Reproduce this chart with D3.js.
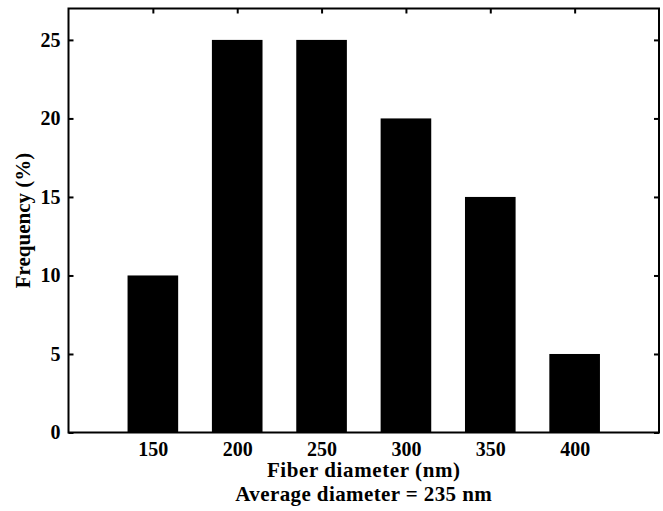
<!DOCTYPE html>
<html>
<head>
<meta charset="utf-8">
<script src="https://cdn.jsdelivr.net/npm/d3@7"></script>
<style>
  body { margin: 0; background: #fff; }
</style>
</head>
<body>
<div id="chart"></div>
<script>
// fiber diameter histogram
const diameters = [150, 200, 250, 300, 350, 400];
const frequencies = [10, 25, 25, 20, 15, 5];
const yTicks = [0, 5, 10, 15, 20, 25];
const xLabel = "Fiber diameter (nm)";
const subLabel = "Average diameter = 235 nm";
const yLabel = "Frequency (%)";

const width = 663;
const height = 511;
const margin = { top: 8.5, right: 4, bottom: 78.5, left: 68.5 };
const innerW = width - margin.left - margin.right;
const innerH = height - margin.top - margin.bottom;
const barWidthNm = 30;
const font = "'Liberation Serif', 'Times New Roman', serif";

const svg = d3
  .select("#chart")
  .append("svg")
  .attr("width", width)
  .attr("height", height)
  .style("background", "#fff");

const g = svg
  .append("g")
  .attr("transform", "translate(" + margin.left + "," + margin.top + ")");

const x = d3.scaleLinear().domain([100, 450]).range([0, innerW]);
const y = d3.scaleLinear().domain([0, 27]).range([innerH, 0]);

// bars
g.selectAll("rect.bar")
  .data(diameters)
  .enter()
  .append("rect")
  .attr("class", "bar")
  .attr("x", (d) => x(d - barWidthNm / 2))
  .attr("width", (d) => x(d + barWidthNm / 2) - x(d - barWidthNm / 2))
  .attr("y", (d, i) => y(frequencies[i]))
  .attr("height", (d, i) => y(0) - y(frequencies[i]))
  .attr("fill", "#000");

function styleAxis(sel) {
  sel.select(".domain").remove();
  sel.selectAll(".tick line").attr("stroke", "#000").attr("stroke-width", 2);
  sel
    .selectAll(".tick text")
    .attr("fill", "#000")
    .style("font-family", font)
    .style("font-weight", "bold")
    .style("font-size", "20px");
}

g.append("g")
  .attr("transform", "translate(0," + innerH + ")")
  .call(d3.axisBottom(x).tickValues(diameters).tickSize(-5).tickPadding(9).tickFormat(d3.format("d")))
  .call(styleAxis);

g.append("g")
  .call(d3.axisTop(x).tickValues(diameters).tickSize(-5).tickFormat(""))
  .call(styleAxis);

g.append("g")
  .call(d3.axisLeft(y).tickValues(yTicks).tickSize(-5).tickPadding(8).tickFormat(d3.format("d")))
  .call(styleAxis);

g.append("g")
  .attr("transform", "translate(" + innerW + ",0)")
  .call(d3.axisRight(y).tickValues(yTicks).tickSize(-5).tickFormat(""))
  .call(styleAxis);

// frame
g.append("rect")
  .attr("width", innerW)
  .attr("height", innerH)
  .attr("fill", "none")
  .attr("stroke", "#000")
  .attr("stroke-width", 2);

// titles
svg
  .append("text")
  .attr("x", margin.left + innerW / 2)
  .attr("y", 477)
  .attr("text-anchor", "middle")
  .style("font-family", font)
  .style("font-weight", "bold")
  .style("font-size", "21px")
  .style("letter-spacing", "0.6px")
  .text(xLabel);

svg
  .append("text")
  .attr("x", margin.left + innerW / 2)
  .attr("y", 501)
  .attr("text-anchor", "middle")
  .style("font-family", font)
  .style("font-weight", "bold")
  .style("font-size", "21px")
  .style("letter-spacing", "0.4px")
  .text(subLabel);

svg
  .append("text")
  .attr("transform", "translate(30," + (margin.top + innerH / 2) + ") rotate(-90)")
  .attr("text-anchor", "middle")
  .style("font-family", font)
  .style("font-weight", "bold")
  .style("font-size", "21px")
  .text(yLabel);
</script>
</body>
</html>
